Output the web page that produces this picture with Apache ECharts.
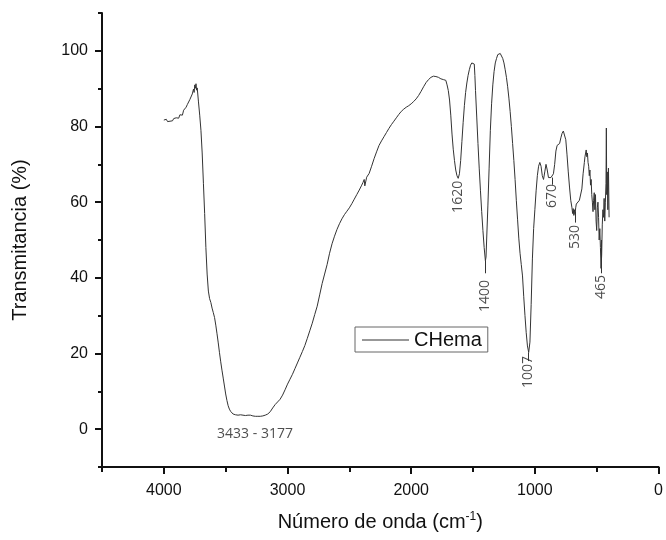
<!DOCTYPE html>
<html>
<head>
<meta charset="utf-8">
<script src="https://cdn.jsdelivr.net/npm/echarts@6/dist/echarts.min.js"></script>
<style>html,body{margin:0;padding:0;background:#fff}#c{width:666px;height:540px}</style>
</head>
<body>
<div id="c"></div>
<script>
var seriesName = 'CHema';
var wavenumber = [4000,3990,3980,3970,3960,3950,3940,3930,3920,3910,3900,3890,3880,3870,3860,3850,3840,3830,3820,3810,3800,3790,3780,3770,3760,3755,3750,3745,3740,3735,3730,3720,3710,3700,3690,3680,3670,3660,3650,3640,3630,3620,3610,3600,3590,3580,3570,3560,3550,3540,3530,3520,3510,3500,3490,3480,3470,3460,3450,3440,3420,3400,3380,3360,3340,3320,3300,3280,3260,3240,3220,3200,3180,3160,3140,3120,3100,3080,3060,3040,3020,3000,2980,2960,2940,2920,2900,2880,2860,2840,2820,2800,2780,2760,2740,2720,2700,2680,2660,2640,2620,2600,2580,2560,2540,2520,2500,2480,2460,2440,2420,2400,2390,2380,2375,2370,2360,2340,2320,2300,2280,2260,2240,2220,2200,2180,2160,2140,2120,2100,2080,2060,2040,2020,2000,1980,1960,1940,1920,1900,1880,1860,1840,1820,1800,1780,1760,1750,1740,1730,1720,1710,1700,1690,1680,1670,1660,1650,1640,1630,1620,1610,1600,1590,1580,1570,1560,1550,1540,1530,1520,1510,1505,1500,1495,1490,1485,1480,1470,1460,1450,1440,1430,1420,1410,1400,1395,1390,1380,1370,1360,1350,1340,1330,1320,1310,1300,1290,1280,1270,1260,1250,1240,1230,1220,1210,1200,1190,1180,1170,1160,1150,1140,1130,1120,1110,1100,1090,1080,1070,1060,1050,1045,1040,1030,1020,1010,1000,990,980,970,960,950,940,930,920,910,900,890,880,870,860,850,840,830,820,810,800,790,780,770,760,750,740,730,720,710,700,695,690,685,680,675,670,665,660,650,640,630,620,610,600,595,590,585,580,575,570,565,560,555,550,545,540,535,530,525,520,515,510,505,500,495,490,485,480,475,470,465,460,455,450,445,440,435,430,425,422,419,415,410,405,400];
var transmittance = [81.7,81.4,81.9,81.3,81.7,81.4,81.9,81.5,82.1,81.6,82.3,82.6,82.2,83.1,83.4,83.0,84.3,84.5,85.1,85.8,86.2,87.1,87.6,88.6,89.9,89.0,91.0,90.1,91.3,89.6,90.2,86.5,83.0,79.0,73.0,65.0,57.0,48.0,41.0,36.5,34.5,33.5,32.0,30.8,29.5,27.5,25.2,22.8,20.2,17.8,15.6,13.5,11.4,9.3,7.6,6.2,5.3,4.7,4.3,4.0,3.8,3.7,3.8,3.7,3.6,3.7,3.7,3.5,3.4,3.4,3.4,3.5,3.7,4.0,4.6,5.6,6.5,7.2,7.9,9.0,10.4,11.9,13.2,14.5,16.0,17.5,19.0,20.5,22.1,24.0,26.0,28.0,30.3,32.5,35.5,38.5,41.0,43.5,46.5,49.0,51.0,52.8,54.3,55.6,56.7,57.6,58.5,59.6,60.8,62.0,63.2,64.5,65.2,66.0,64.3,64.8,66.6,67.6,69.5,71.5,73.3,75.0,76.2,77.3,78.4,79.5,80.5,81.4,82.3,83.2,84.0,84.6,85.1,85.5,86.0,86.6,87.3,88.2,89.3,90.5,91.6,92.4,93.0,93.3,93.2,93.0,92.6,92.9,92.4,92.7,92.2,91.0,89.5,87.0,83.0,78.0,74.0,71.0,68.5,67.0,66.3,67.5,71.0,76.0,81.0,85.5,89.0,91.5,93.5,95.0,96.2,96.8,97.3,96.6,97.2,96.5,93.5,89.5,82.5,75.5,69.0,63.0,57.5,52.5,48.0,44.5,45.5,50.0,59.0,69.0,79.0,86.0,91.0,94.5,96.8,98.0,99.0,99.5,99.3,98.8,98.0,96.8,95.0,93.0,90.5,87.5,84.0,80.0,75.5,71.0,66.0,60.5,55.5,50.5,46.5,43.5,40.5,35.0,30.0,25.5,22.0,20.3,20.6,23.0,33.0,45.0,53.0,58.0,63.0,67.0,69.5,70.5,69.5,67.0,66.0,68.0,70.0,68.5,66.5,66.3,66.5,66.8,67.5,70.0,73.5,75.0,75.0,75.5,77.0,78.2,78.8,78.5,76.5,72.5,68.0,64.0,60.5,58.5,57.0,58.3,56.5,58.0,56.8,58.5,59.5,59.0,60.0,60.5,61.0,63.5,67.5,70.5,72.0,71.5,73.8,72.0,73.0,70.5,69.5,67.0,68.5,64.5,66.0,62.0,60.0,57.5,60.5,62.5,58.0,62.0,55.0,52.5,58.5,60.0,56.0,50.0,53.0,48.0,42.5,46.0,54.0,58.0,56.0,61.0,55.0,60.0,65.0,79.6,62.0,68.0,58.0,69.0,56.0];

// peak annotations (text, position in data units)
var peakText = ['1620','1400','1007','670','530','465'];
var peakTextX = [1619,1401,1053,862,672,462];
var peakTextY = [61.4,35.2,15.1,61.6,50.8,37.6];
// short leader lines from band minimum to the label
var leaderX = [1400,1050,862,672,465];
var leaderTop = [44.5,20.3,66.5,57.5,50.0];
var leaderBottom = [41.2,18.0,64.6,54.6,41.2];
var bandText = '3433 - 3177';
var bandTextPos = [3263, -1.3];

var xMajorTicks = [0,1000,2000,3000,4000];
var xMinorTicks = [500,1500,2500,3500,4500];
var yMajorTicks = [0,20,40,60,80,100];
var yMinorTicks = [-10,10,30,50,70,90,110];

var lineData = wavenumber.map(function(w,i){return [w, transmittance[i]];});
var peakData = peakText.map(function(t,i){return {value:[peakTextX[i], peakTextY[i]], name:t};});
var leaderData = leaderX.map(function(x,i){return [{coord:[x, leaderTop[i]]},{coord:[x, leaderBottom[i]]}];});

var FONT = '"Liberation Sans", Arial, sans-serif';
var plain = function(v){return String(v);};
var chart = echarts.init(document.getElementById('c'), null, {renderer:'canvas'});
chart.setOption({
  animation:false,
  backgroundColor:'#fff',
  grid: {left:102, right:6, top:13, bottom:73},
  legend: {
    data:[{name:seriesName, icon:'rect'}], left:355, top:327,
    orient:'horizontal',
    borderColor:'#666', borderWidth:1, borderRadius:0,
    padding:[3,6,2,7], itemWidth:47, itemHeight:1, itemGap:5,
    itemStyle:{color:'#333', borderWidth:0},
    textStyle:{fontFamily:FONT, fontSize:20, color:'#111', padding:[0,0,0,0]}
  },
  xAxis: [{
    type:'value', min:0, max:4500, inverse:true, position:'bottom',
    axisLine:{show:true, onZero:false, lineStyle:{color:'#111', width:2}},
    axisTick:{show:true, inside:false, length:7, customValues:xMajorTicks, lineStyle:{color:'#111', width:2}},
    axisLabel:{show:true, customValues:xMajorTicks, formatter:plain, margin:16, fontFamily:FONT, fontSize:16, color:'#111'},
    splitLine:{show:false},
    name:'Número de onda (cm{sup|-1})', nameLocation:'middle', nameGap:44,
    nameTextStyle:{fontFamily:FONT, fontSize:20, color:'#111', rich:{sup:{fontFamily:FONT, fontSize:12, color:'#111', verticalAlign:'top', padding:[0,0,10,0]}}}
  },{
    type:'value', min:0, max:4500, inverse:true, position:'bottom',
    axisLine:{show:false, onZero:false},
    axisTick:{show:true, length:5, customValues:xMinorTicks, lineStyle:{color:'#111', width:2}},
    axisLabel:{show:false}, splitLine:{show:false}
  }],
  yAxis: [{
    type:'value', min:-10, max:110, position:'left',
    axisLine:{show:true, onZero:false, lineStyle:{color:'#111', width:2}},
    axisTick:{show:true, length:7, customValues:yMajorTicks, lineStyle:{color:'#111', width:2}},
    axisLabel:{show:true, customValues:yMajorTicks, formatter:plain, margin:14, fontFamily:FONT, fontSize:16, color:'#111'},
    splitLine:{show:false},
    name:'Transmitancia (%)', nameLocation:'middle', nameGap:72,
    nameTextStyle:{fontFamily:FONT, fontSize:20, color:'#111'}
  },{
    type:'value', min:-10, max:110, position:'left',
    axisLine:{show:false, onZero:false},
    axisTick:{show:true, length:4, customValues:yMinorTicks, lineStyle:{color:'#111', width:2}},
    axisLabel:{show:false}, splitLine:{show:false}
  }],
  series: [{
    name:seriesName, type:'line', data:lineData, xAxisIndex:0, yAxisIndex:0,
    showSymbol:false, symbol:'none', smooth:false,
    lineStyle:{color:'#333', width:1},
    itemStyle:{color:'#333'},
    markLine:{silent:true, symbol:['none','none'], label:{show:false},
      lineStyle:{color:'#333', width:1, type:'solid'}, data:leaderData, animation:false}
  },{
    name:'peaks', type:'scatter', data:peakData, symbolSize:0, xAxisIndex:0, yAxisIndex:0,
    label:{show:true, position:'inside', rotate:90, formatter:'{b}', align:'center', verticalAlign:'middle',
      fontFamily:'"Open Sans", sans-serif', fontSize:14, color:'#222'}
  },{
    name:'band', type:'scatter', data:[{value:bandTextPos, name:bandText}], symbolSize:0,
    label:{show:true, position:'inside', formatter:'{b}', align:'center', verticalAlign:'middle',
      fontFamily:'"Open Sans", sans-serif', fontSize:14, color:'#222'}
  }]
});
</script>
</body>
</html>
